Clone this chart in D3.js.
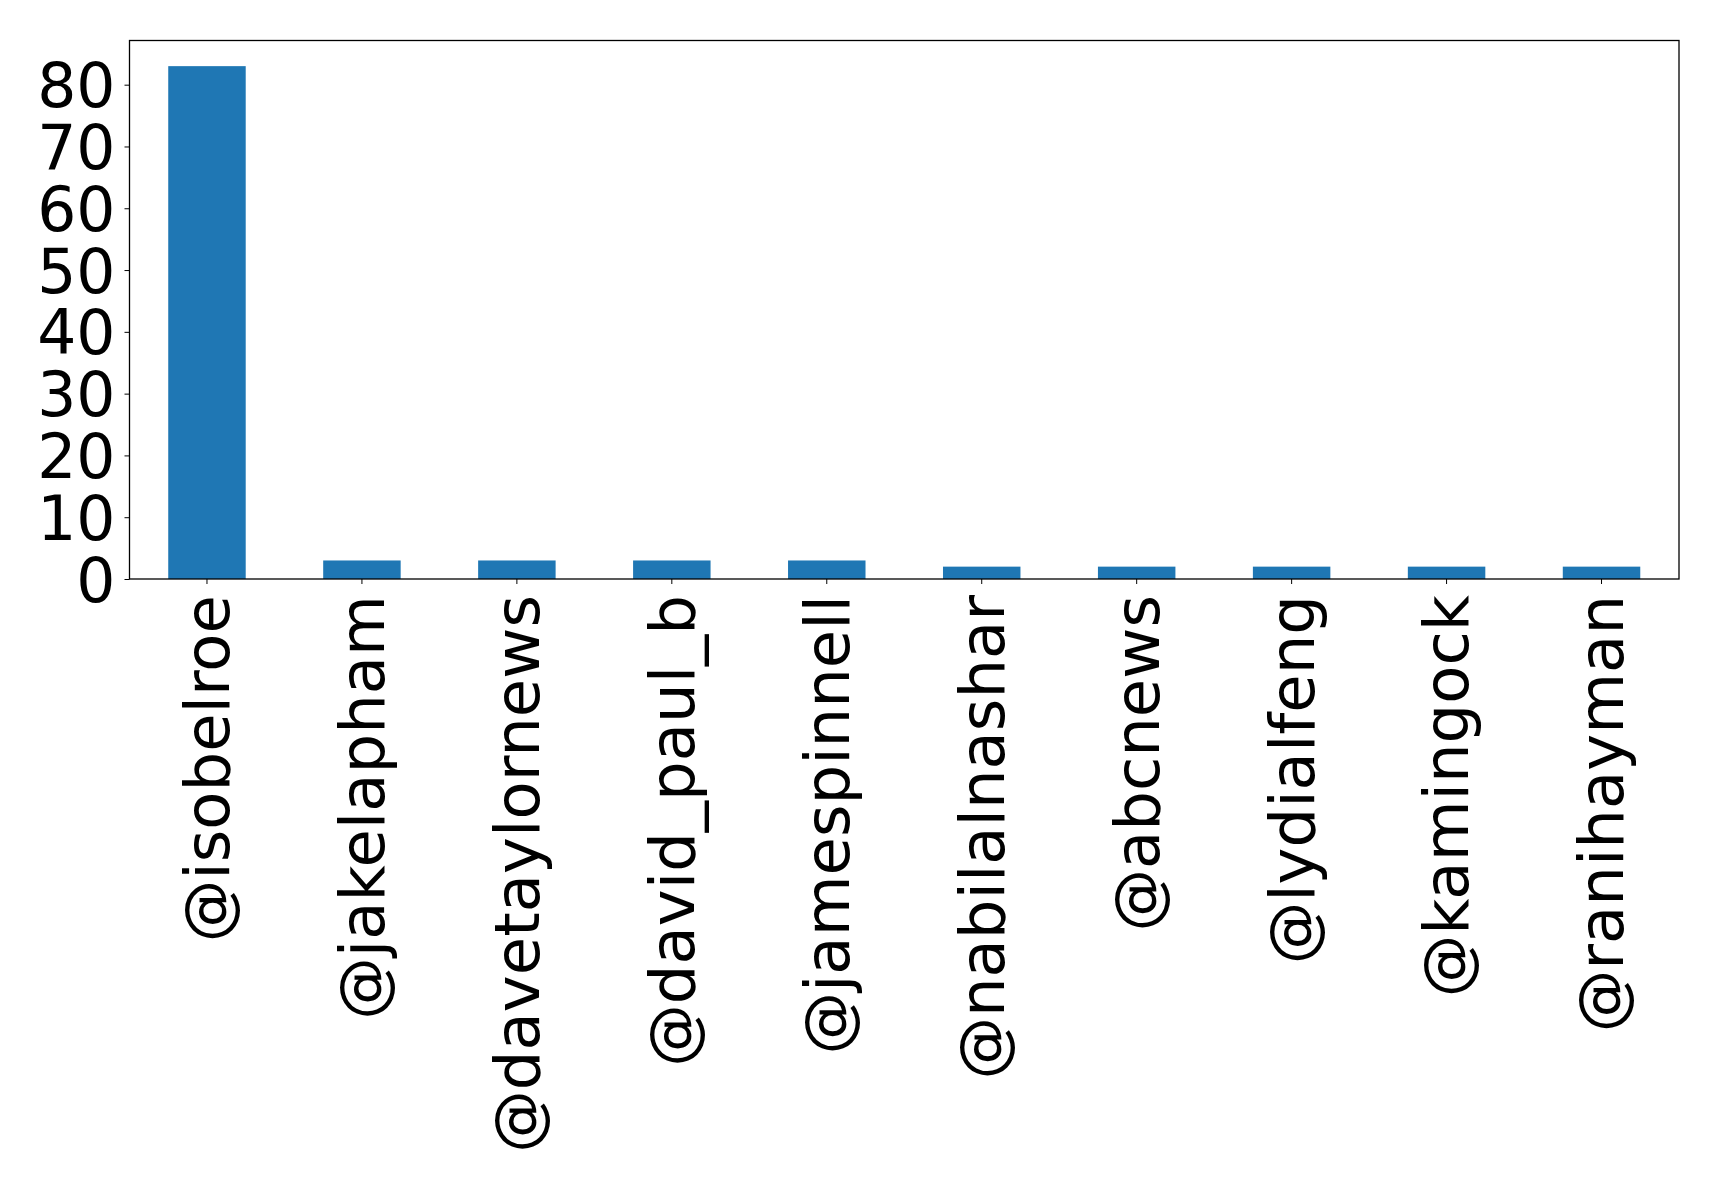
<!DOCTYPE html>
<html>
<head>
<meta charset="utf-8">
<script src="https://cdn.jsdelivr.net/npm/d3@7"></script>
<style>
  body { margin: 0; background: #fff; }
  text { font-family: "DejaVu Sans", sans-serif; fill: #000; }
</style>
</head>
<body>
<script>
// data
var handles = ["@isobelroe", "@jakelapham", "@davetaylornews", "@david_paul_b", "@jamespinnell",
               "@nabilalnashar", "@abcnews", "@lydialfeng", "@kamingock", "@ranihayman"];
var counts = [83, 3, 3, 3, 3, 2, 2, 2, 2, 2];
var yTicks = [0, 10, 20, 30, 40, 50, 60, 70, 80];

var width = 1719,
    height = 1186,
    margin = { top: 40.5, right: 40, bottom: 607, left: 129.5 },
    innerW = width - margin.left - margin.right,
    innerH = height - margin.top - margin.bottom;

var svg = d3.select("body").append("svg")
    .attr("width", width)
    .attr("height", height);

var g = svg.append("g")
    .attr("transform", "translate(" + margin.left + "," + margin.top + ")");

var x = d3.scaleBand()
    .domain(handles)
    .range([0, innerW])
    .paddingInner(0.5)
    .paddingOuter(0.25);

var y = d3.scaleLinear()
    .domain([0, d3.max(counts) * 1.05])
    .range([innerH, 0]);

// bars
g.selectAll("rect.bar")
    .data(counts)
    .enter().append("rect")
    .attr("class", "bar")
    .attr("x", function (d, i) { return x(handles[i]); })
    .attr("width", x.bandwidth())
    .attr("y", function (d) { return y(d); })
    .attr("height", function (d) { return innerH - y(d); })
    .style("fill", "#1f77b4");

// y axis
var yAxis = g.append("g")
    .call(d3.axisLeft(y).tickValues(yTicks).tickSize(5).tickPadding(9));
yAxis.select(".domain").remove();
yAxis.selectAll("text")
    .style("font-size", "61.5px")
    .attr("dy", "0.36em");

// x axis
var xAxis = g.append("g")
    .attr("transform", "translate(0," + innerH + ")")
    .call(d3.axisBottom(x).tickSize(5).tickPadding(0));
xAxis.select(".domain").remove();
xAxis.selectAll("text")
    .style("font-size", "62.5px")
    .attr("text-anchor", "end")
    .attr("transform", "rotate(-90)")
    .attr("x", -16)
    .attr("y", 0)
    .attr("dy", "0.35em");

// frame
g.append("rect")
    .attr("width", innerW)
    .attr("height", innerH)
    .style("fill", "none")
    .style("stroke", "#000")
    .style("stroke-width", 1.3);
</script>
</body>
</html>
